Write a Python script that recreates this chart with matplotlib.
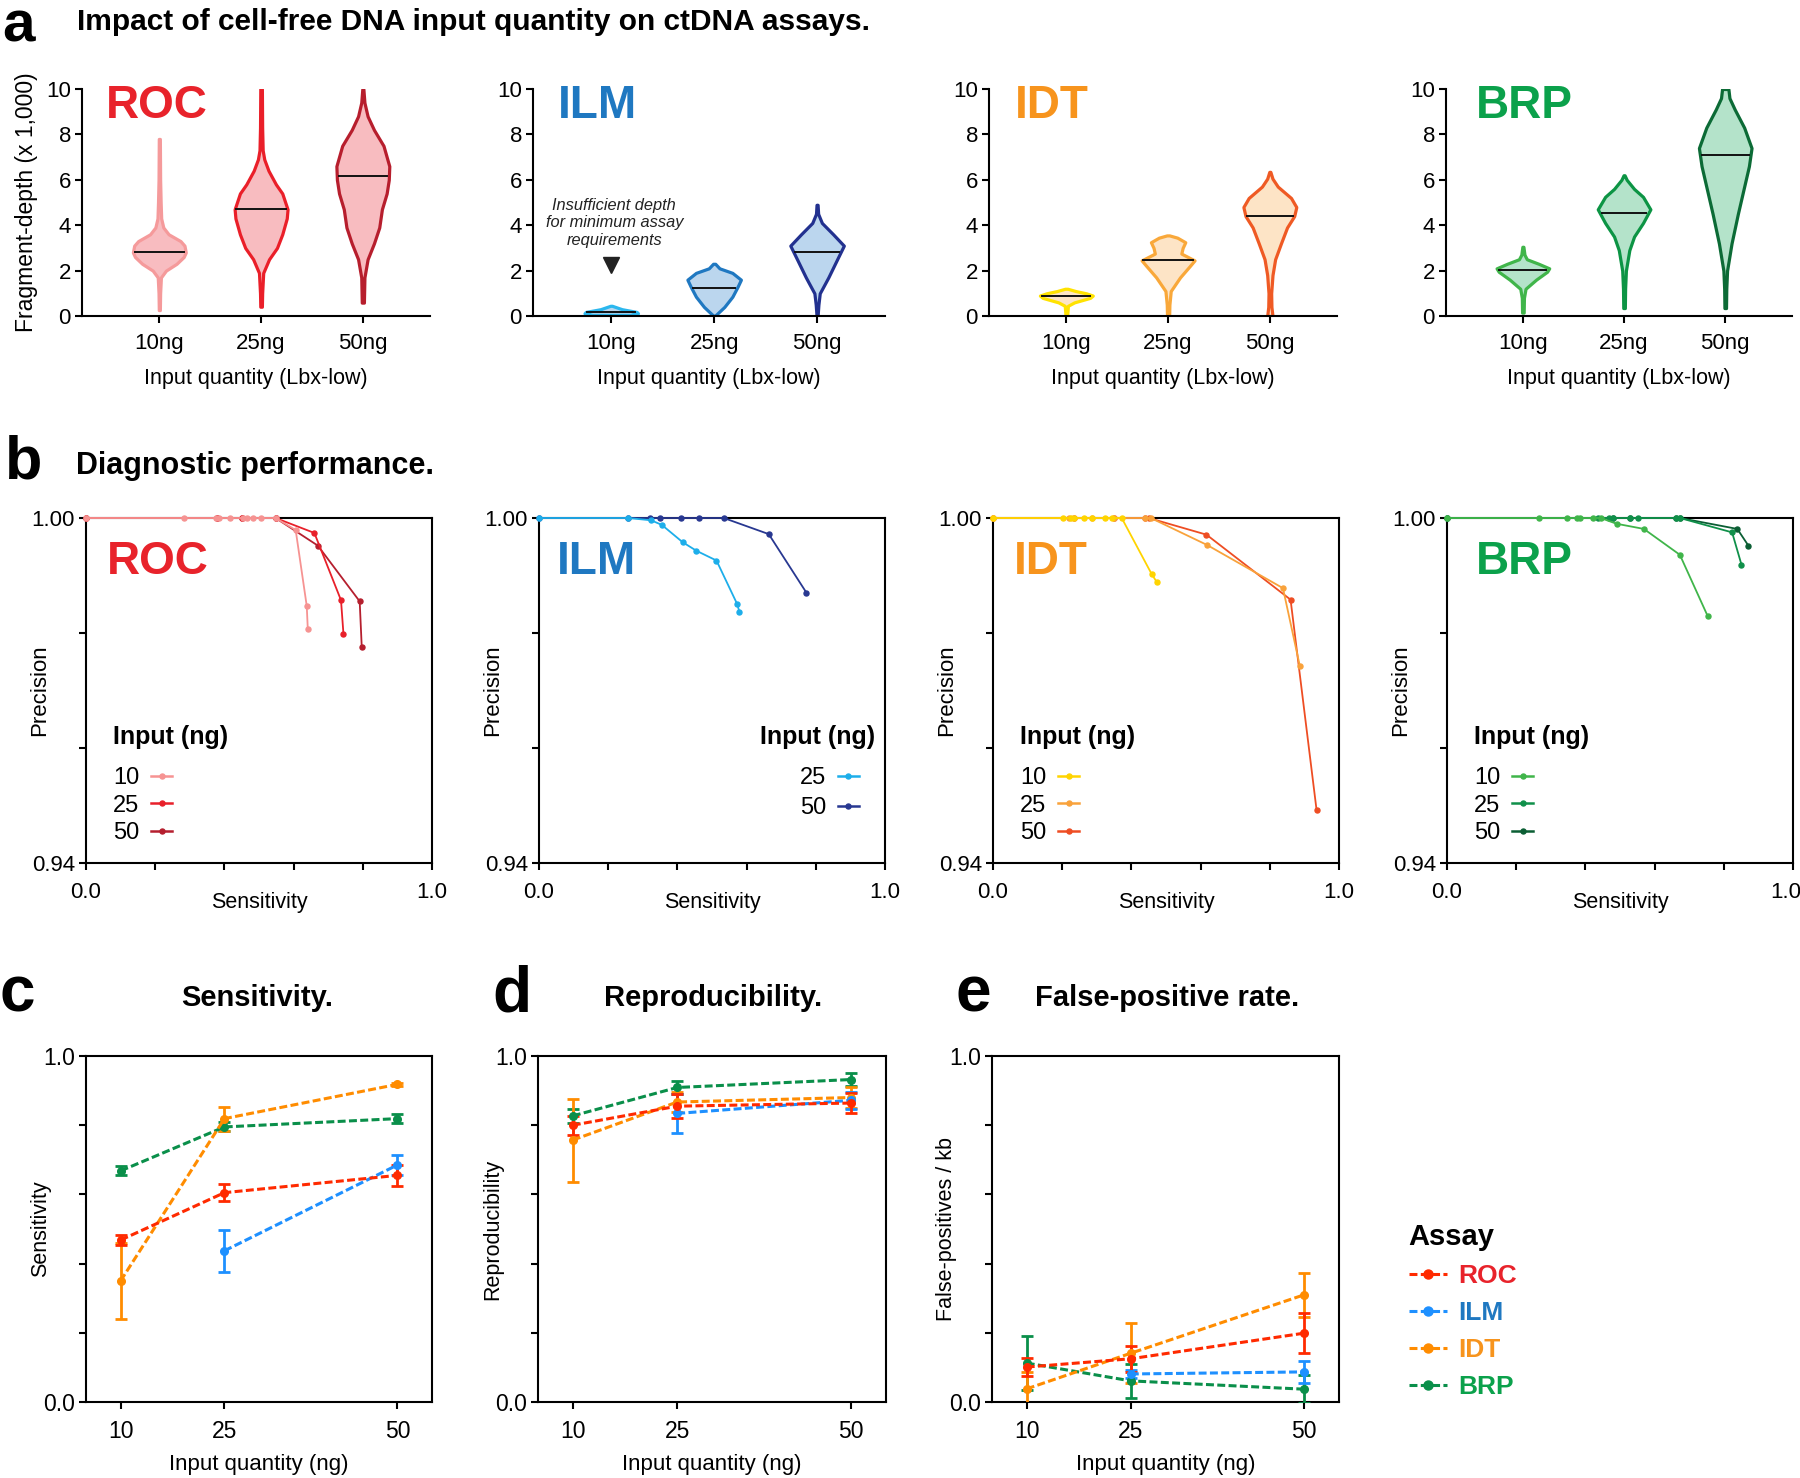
import numpy as np
import matplotlib
matplotlib.use('Agg')
import matplotlib.pyplot as plt
from matplotlib.lines import Line2D

plt.rcParams['font.family'] = ['Liberation Sans', 'DejaVu Sans']

W, H = 1800, 1478

# ---------------- data ----------------
assays = ['ROC', 'ILM', 'IDT', 'BRP']
input_labels = ['10ng', '25ng', '50ng']

# Panel a: violin density profiles (y in thousands, relative density)
ROC_violin_y = [[0.26, 1.0, 1.7, 2.0, 2.3, 2.6, 2.8, 3.1, 3.3, 3.6, 3.9, 4.3, 5.0, 6.0, 7.8],
                [0.41, 1.0, 1.9, 2.5, 3.0, 3.6, 4.3, 4.7, 5.4, 5.8, 6.4, 6.9, 7.3, 8.3, 10.0],
                [0.59, 1.7, 2.5, 3.2, 3.9, 4.7, 5.4, 6.0, 6.6, 7.5, 8.2, 8.8, 9.4, 10.0]]
ROC_violin_w = [[0.02, 0.03, 0.06, 0.25, 0.65, 0.92, 1.0, 0.95, 0.8, 0.35, 0.15, 0.07, 0.05, 0.03, 0.02],
                [0.03, 0.04, 0.08, 0.3, 0.6, 0.8, 0.97, 1.0, 0.8, 0.56, 0.28, 0.12, 0.06, 0.04, 0.03],
                [0.04, 0.06, 0.18, 0.42, 0.62, 0.72, 0.9, 0.98, 1.0, 0.78, 0.42, 0.18, 0.06, 0.02]]
ROC_median = [2.8, 4.7, 6.15]

ILM_violin_y = [[0.05, 0.12, 0.18, 0.3, 0.45],
                [0.0, 0.4, 0.85, 1.3, 1.6, 1.9, 2.1, 2.3],
                [0.0, 0.5, 1.0, 1.7, 2.5, 3.1, 3.6, 4.1, 4.5, 4.9]]
ILM_violin_w = [[0.7, 1.0, 0.95, 0.4, 0.03],
                [0.02, 0.38, 0.68, 0.88, 1.0, 0.68, 0.2, 0.04],
                [0.02, 0.05, 0.1, 0.42, 0.75, 1.0, 0.6, 0.18, 0.04, 0.02]]
ILM_median = [0.17, 1.23, 2.8]

IDT_violin_y = [[0.0, 0.45, 0.6, 0.8, 0.9, 1.0, 1.1, 1.2],
                [0.0, 0.5, 1.1, 1.7, 2.2, 2.45, 2.75, 3.0, 3.25, 3.45, 3.55],
                [0.0, 0.4, 1.0, 1.8, 2.5, 3.2, 3.9, 4.4, 4.8, 5.2, 5.7, 6.05, 6.35]]
IDT_violin_w = [[0.03, 0.06, 0.3, 0.9, 1.0, 0.75, 0.35, 0.05],
                [0.04, 0.05, 0.1, 0.45, 0.82, 1.0, 0.5, 0.55, 0.65, 0.35, 0.05],
                [0.1, 0.06, 0.05, 0.1, 0.2, 0.42, 0.65, 0.92, 1.0, 0.8, 0.3, 0.1, 0.02]]
IDT_median = [0.88, 2.45, 4.42]

BRP_violin_y = [[0.15, 0.8, 1.2, 1.6, 1.95, 2.1, 2.3, 2.5, 2.7, 3.05],
                [0.35, 1.2, 2.0, 2.9, 3.5, 4.1, 4.7, 5.25, 5.6, 6.0, 6.2],
                [0.35, 1.2, 2.0, 3.2, 4.5, 5.7, 6.6, 7.4, 8.3, 9.1, 9.6, 10.0]]
BRP_violin_w = [[0.03, 0.04, 0.1, 0.5, 0.92, 1.0, 0.6, 0.15, 0.06, 0.02],
                [0.03, 0.04, 0.07, 0.2, 0.38, 0.72, 1.0, 0.72, 0.38, 0.1, 0.02],
                [0.03, 0.04, 0.07, 0.24, 0.48, 0.72, 0.9, 1.0, 0.72, 0.36, 0.16, 0.12]]
BRP_median = [2.03, 4.52, 7.1]

# Panel b: precision / sensitivity curves
ROC_pr_labels = ['10', '25', '50']
ROC_sens = [[0, 0.284, 0.376, 0.383, 0.415, 0.453, 0.465, 0.482, 0.506, 0.548, 0.606, 0.638, 0.641],
            [0, 0.38, 0.45, 0.548, 0.660, 0.737, 0.744],
            [0, 0.38, 0.45, 0.548, 0.670, 0.791, 0.797]]
ROC_prec = [[1, 1, 1, 1, 1, 1, 1, 1, 1, 1, 0.9979, 0.9847, 0.9807],
            [1, 1, 1, 1, 0.9974, 0.9857, 0.9799],
            [1, 1, 1, 1, 0.9952, 0.9855, 0.9775]]

ILM_pr_labels = ['25', '50']
ILM_sens = [[0, 0.2575, 0.324, 0.355, 0.415, 0.455, 0.513, 0.573, 0.579],
            [0, 0.2575, 0.320, 0.349, 0.409, 0.461, 0.534, 0.664, 0.773]]
ILM_prec = [[1, 1, 0.9996, 0.9988, 0.9958, 0.9943, 0.9926, 0.9850, 0.9837],
            [1, 1, 1, 1, 1, 1, 1, 0.9972, 0.9870]]

IDT_pr_labels = ['10', '25', '50']
IDT_sens = [[0, 0.201, 0.225, 0.233, 0.262, 0.287, 0.324, 0.344, 0.372, 0.459, 0.473],
            [0, 0.22, 0.287, 0.35, 0.44, 0.456, 0.619, 0.838, 0.887],
            [0, 0.233, 0.35, 0.44, 0.45, 0.617, 0.860, 0.935]]
IDT_prec = [[1, 1, 1, 1, 1, 1, 1, 1, 1, 0.9902, 0.9889],
            [1, 1, 1, 1, 1, 1, 0.9953, 0.9878, 0.9742],
            [1, 1, 1, 1, 1, 0.9971, 0.9858, 0.9493]]

BRP_pr_labels = ['10', '25', '50']
BRP_sens = [[0, 0.267, 0.346, 0.375, 0.383, 0.423, 0.444, 0.490, 0.569, 0.673, 0.753],
            [0, 0.435, 0.469, 0.48, 0.529, 0.553, 0.662, 0.673, 0.824, 0.851],
            [0, 0.48, 0.529, 0.662, 0.673, 0.839, 0.871]]
BRP_prec = [[1, 1, 1, 1, 1, 1, 1, 0.9990, 0.9981, 0.9936, 0.9830],
            [1, 1, 1, 1, 1, 1, 1, 1, 0.9975, 0.9919],
            [1, 1, 1, 1, 1, 0.9981, 0.9952]]

# Panels c-e
input_ng = [10, 25, 50]
nan = np.nan
sens_mean = {'ROC': [0.468, 0.605, 0.655], 'ILM': [nan, 0.437, 0.685],
             'IDT': [0.35, 0.819, 0.918], 'BRP': [0.668, 0.795, 0.819]}
sens_err = {'ROC': [0.015, 0.025, 0.03], 'ILM': [nan, 0.061, 0.03],
            'IDT': [0.11, 0.035, 0.004], 'BRP': [0.013, 0.013, 0.012]}
repro_mean = {'ROC': [0.80, 0.855, 0.864], 'ILM': [nan, 0.834, 0.872],
              'IDT': [0.757, 0.867, 0.88], 'BRP': [0.827, 0.909, 0.932]}
repro_err = {'ROC': [0.027, 0.035, 0.028], 'ILM': [nan, 0.057, 0.025],
             'IDT': [0.12, 0.03, 0.03], 'BRP': [0.02, 0.02, 0.018]}
fpr_mean = {'ROC': [0.101, 0.125, 0.199], 'ILM': [nan, 0.081, 0.087],
            'IDT': [0.038, 0.141, 0.31], 'BRP': [0.1125, 0.061, 0.037]}
fpr_err = {'ROC': [0.027, 0.038, 0.057], 'ILM': [nan, 0.012, 0.031],
           'IDT': [0.05, 0.087, 0.063], 'BRP': [0.077, 0.05, 0.04]}

# ---------------- styles ----------------
title_colors = {'ROC': '#E8232B', 'ILM': '#1F78C1', 'IDT': '#F7941D', 'BRP': '#0BA14B'}
violin_edges = {'ROC': ['#F59A9B', '#EA1F29', '#B71E2D'],
                'ILM': ['#2BB7EE', '#1F78C1', '#22318F'],
                'IDT': ['#FFE200', '#F9A83A', '#EF5A24'],
                'BRP': ['#40B54A', '#0C9444', '#0C6B36']}
violin_fill = {'ROC': '#F8BCC0', 'ILM': '#BBD6EE', 'IDT': '#FDE4C6', 'BRP': '#B4E3CA'}
pr_colors = {'ROC': ['#F69392', '#E8202A', '#B51F2E'],
             'ILM': ['#1DAEEA', '#283891'],
             'IDT': ['#FFD400', '#F9A23B', '#EE4D23'],
             'BRP': ['#40B54A', '#10904A', '#0B5E34']}
line_colors = {'ROC': '#FF2A00', 'ILM': '#1E90FF', 'IDT': '#FF8C00', 'BRP': '#0A8F4A'}

violin_data = {'ROC': (ROC_violin_y, ROC_violin_w, ROC_median),
               'ILM': (ILM_violin_y, ILM_violin_w, ILM_median),
               'IDT': (IDT_violin_y, IDT_violin_w, IDT_median),
               'BRP': (BRP_violin_y, BRP_violin_w, BRP_median)}
pr_data = {'ROC': (ROC_sens, ROC_prec, ROC_pr_labels),
           'ILM': (ILM_sens, ILM_prec, ILM_pr_labels),
           'IDT': (IDT_sens, IDT_prec, IDT_pr_labels),
           'BRP': (BRP_sens, BRP_prec, BRP_pr_labels)}

SPW = 1.5
TICK = 16
LAB = 15.5
NAME_FS = 33

fig = plt.figure(figsize=(W / 100, H / 100), dpi=100)


def box(l, t, r, b):
    return [l / W, 1 - b / H, (r - l) / W, (b - t) / H]


def ftext(x, y, s, **kw):
    fig.text(x / W, 1 - y / H, s, **kw)


def style_axes(ax, full_box=False):
    for side in ['left', 'bottom', 'top', 'right']:
        ax.spines[side].set_linewidth(SPW)
    if not full_box:
        ax.spines['top'].set_visible(False)
        ax.spines['right'].set_visible(False)
    ax.tick_params(width=SPW, length=5, labelsize=TICK, pad=3)


# ---------------- panel a ----------------
a_boxes = [(82, 89, 430, 316), (533, 89, 885, 316), (989, 89, 1337, 316), (1446, 89, 1792, 316)]
a_name_x = [0.07, 0.07, 0.075, 0.087]
VW = 0.52
for k, name in enumerate(assays):
    ax = fig.add_axes(box(*a_boxes[k]))
    style_axes(ax)
    ys, ws, meds = violin_data[name]
    stats = []
    for y, w, m in zip(ys, ws, meds):
        y = np.asarray(y, float)
        w = np.asarray(w, float)
        stats.append(dict(coords=y, vals=w, mean=m, median=m, min=y.min(), max=y.max()))
    parts = ax.violin(stats, positions=[0, 1, 2], widths=VW, showextrema=False)
    for body, ec in zip(parts['bodies'], violin_edges[name]):
        body.set_facecolor(violin_fill[name])
        body.set_edgecolor(ec)
        body.set_linewidth(2.3)
        body.set_alpha(1)
        body.set_joinstyle('round')
    for i, (y, w, m) in enumerate(zip(ys, ws, meds)):
        half = np.interp(m, y, w) / max(w) * VW / 2
        ax.plot([i - half * 0.93, i + half * 0.93], [m, m], color='#111111', lw=1.4, zorder=3)
    ax.set_xlim(-0.76, 2.66)
    ax.set_ylim(0, 10)
    ax.set_yticks([0, 2, 4, 6, 8, 10])
    ax.set_xticks([0, 1, 2])
    ax.set_xticklabels(input_labels)
    ax.tick_params(axis='x', pad=7)
    ax.set_xlabel('Input quantity (Lbx-low)', fontsize=LAB, labelpad=10)
    if k == 0:
        ax.set_ylabel('Fragment-depth (x 1,000)', fontsize=16.5, labelpad=6)
    ax.text(a_name_x[k], 1.02, name, transform=ax.transAxes, ha='left', va='top',
            fontsize=NAME_FS, fontweight='bold', color=title_colors[name])
    if name == 'ILM':
        ax.text(0.03, 4.1, 'Insufficient depth\nfor minimum assay\nrequirements',
                ha='center', va='center', fontsize=11.8, style='italic', color='#222222',
                linespacing=1.2)
        ax.plot([0], [2.25], marker='v', ms=11, color='#222222', ls='none')

# ---------------- panel b ----------------
b_boxes = [(86, 518, 432, 863), (539, 518, 885, 863), (993, 518, 1339, 863), (1447, 518, 1793, 863)]
b_name_x = [0.06, 0.052, 0.06, 0.084]
for k, name in enumerate(assays):
    ax = fig.add_axes(box(*b_boxes[k]))
    style_axes(ax, full_box=True)
    sens, prec, labs = pr_data[name]
    n = len(sens)
    for i in range(n - 1, -1, -1):
        ax.plot(sens[i], prec[i], '-o', color=pr_colors[name][i], lw=1.3, ms=3.6,
                clip_on=False, zorder=4 + (n - i))
    handles = [Line2D([], [], color=pr_colors[name][i], lw=1.8, marker='o', ms=3.6) for i in range(n)]
    ax.set_xlim(0, 1)
    ax.set_ylim(0.94, 1.0)
    ax.set_xticks([0, 0.2, 0.4, 0.6, 0.8, 1.0])
    ax.set_yticks([0.94, 0.96, 0.98, 1.0])
    ax.set_yticklabels(['0.94', '', '', '1.00'])
    ax.tick_params(axis='x', pad=9)
    if name == 'BRP':
        # last label kept inside the figure edge
        ax.set_xticklabels(['0.0', '', '', '', '', ''])
        ax.annotate('1.0', xy=(1.0, 0), xycoords='axes fraction', xytext=(6, -14),
                    textcoords='offset points', ha='right', va='top', fontsize=TICK)
    else:
        ax.set_xticklabels(['0.0', '', '', '', '', '1.0'])
    ax.set_xlabel('Sensitivity', fontsize=LAB, labelpad=-8)
    ax.set_ylabel('Precision', fontsize=16)
    ax.yaxis.set_label_coords(-0.105, 0.5)
    ax.text(b_name_x[k], 0.935, name, transform=ax.transAxes, ha='left', va='top',
            fontsize=NAME_FS, fontweight='bold', color=title_colors[name])
    kw = dict(frameon=False, markerfirst=False, fontsize=17, handlelength=0.9,
              handletextpad=0.5, labelspacing=0.22, borderaxespad=0, borderpad=0)
    if name == 'ILM':
        ax.text(0.971, 0.365, 'Input (ng)', transform=ax.transAxes, ha='right', va='center',
                fontsize=18, fontweight='bold')
        ax.legend(handles, labs, loc='upper right', bbox_to_anchor=(0.925, 0.277),
                  alignment='right', **dict(kw, labelspacing=0.32))
    else:
        ax.text(0.078, 0.365, 'Input (ng)', transform=ax.transAxes, ha='left', va='center',
                fontsize=18, fontweight='bold')
        ax.legend(handles, labs, loc='upper left', bbox_to_anchor=(0.078, 0.277),
                  alignment='left', **kw)

# ---------------- panels c-e ----------------
c_boxes = [(86, 1056, 432, 1402), (538, 1056, 886, 1402), (992, 1056, 1339, 1402)]
c_means = [sens_mean, repro_mean, fpr_mean]
c_errs = [sens_err, repro_err, fpr_err]
c_ylabels = ['Sensitivity', 'Reproducibility', 'False-positives / kb']
DASH = (0, (2.6, 1.1))
draw_order = ['BRP', 'IDT', 'ILM', 'ROC']
for k in range(3):
    ax = fig.add_axes(box(*c_boxes[k]))
    style_axes(ax, full_box=True)
    for name in draw_order:
        ax.errorbar(input_ng, c_means[k][name], yerr=c_errs[k][name], color=line_colors[name],
                    marker='o', ms=5.5, lw=2.2, elinewidth=2.0, capsize=4, capthick=2.0,
                    ls=DASH, zorder=3)
    ax.set_xlim(5, 55)
    ax.set_ylim(0, 1)
    ax.set_xticks(input_ng)
    ax.set_xticklabels([str(v) for v in input_ng])
    ax.set_yticks([0, 0.2, 0.4, 0.6, 0.8, 1.0])
    ax.set_yticklabels(['0.0', '', '', '', '', '1.0'])
    ax.tick_params(axis='x', pad=8, labelsize=16.5)
    ax.tick_params(axis='y', labelsize=16.5)
    ax.set_xlabel('Input quantity (ng)', fontsize=16, labelpad=8)
    ax.set_ylabel(c_ylabels[k], fontsize=15.5)
    ax.yaxis.set_label_coords(-0.1, 0.5)

# legend for c-e
leg_handles = [Line2D([], [], color=line_colors[n], ls=DASH, lw=2.2, marker='o', ms=6.5) for n in assays]
leg = fig.legend(leg_handles, assays, loc='upper left', bbox_to_anchor=(1398 / W, 1 - 1212 / H),
                 title='Assay', frameon=False, alignment='left', handlelength=1.45,
                 handletextpad=0.45, labelspacing=0.5, borderaxespad=0,
                 prop={'weight': 'bold', 'size': 19},
                 title_fontproperties={'weight': 'bold', 'size': 21})
for t, n in zip(leg.get_texts(), assays):
    t.set_color(title_colors[n])

# ---------------- headings ----------------
ftext(2, 27, 'a', fontsize=42, fontweight='bold', va='center', ha='left')
ftext(77, 22, 'Impact of cell-free DNA input quantity on ctDNA assays.', fontsize=21.5,
      fontweight='bold', va='center', ha='left')
ftext(5, 463, 'b', fontsize=44, fontweight='bold', va='center', ha='left')
ftext(76, 466, 'Diagnostic performance.', fontsize=22, fontweight='bold', va='center', ha='left')
ftext(0, 995, 'c', fontsize=46, fontweight='bold', va='center', ha='left')
ftext(257, 998, 'Sensitivity.', fontsize=21, fontweight='bold', va='center', ha='center')
ftext(492, 995, 'd', fontsize=46, fontweight='bold', va='center', ha='left')
ftext(713, 998, 'Reproducibility.', fontsize=21, fontweight='bold', va='center', ha='center')
ftext(955, 995, 'e', fontsize=46, fontweight='bold', va='center', ha='left')
ftext(1167, 998, 'False-positive rate.', fontsize=21, fontweight='bold', va='center', ha='center')

fig.savefig('out.png', dpi=100, facecolor='white')
